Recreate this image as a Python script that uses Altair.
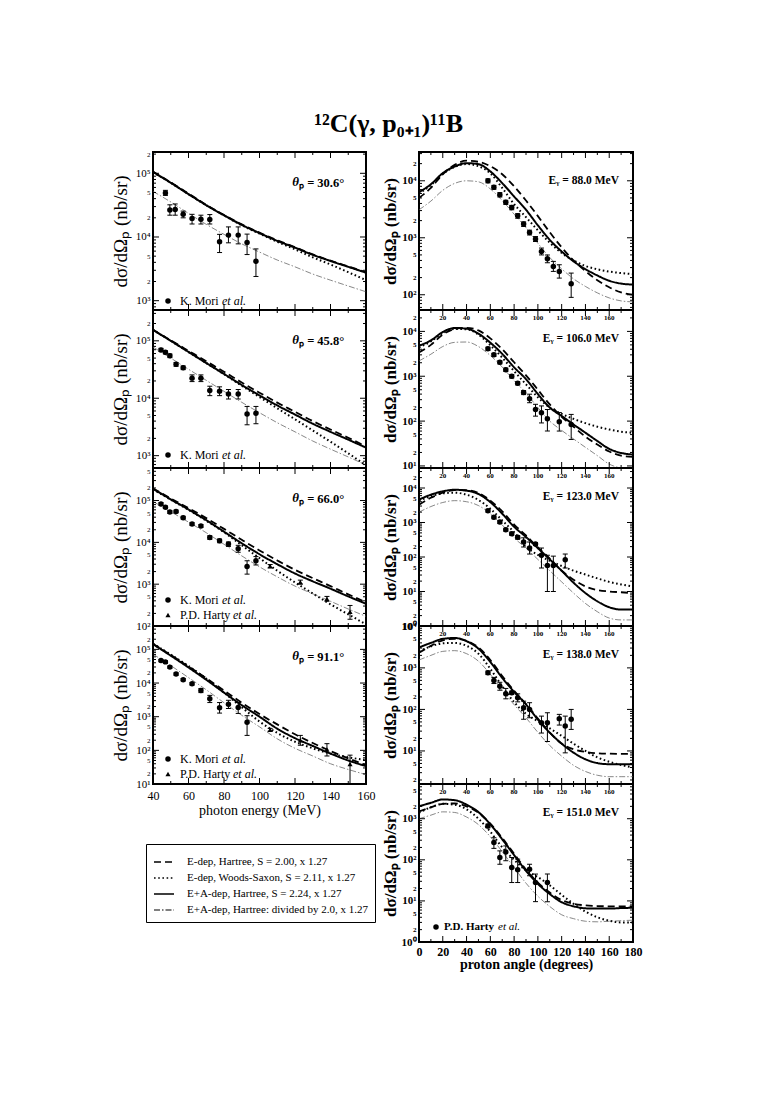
import altair as alt
import pandas as pd

FONT = "Liberation Serif"

MODELS = ["E-dep, Hartree, S = 2.00, x 1.27",
          "E-dep, Woods-Saxon, S = 2.11, x 1.27",
          "E+A-dep, Hartree, S = 2.24, x 1.27",
          "E+A-dep, Hartree: divided by 2.0, x 1.27"]
DASHES = [[7, 4], [1.6, 2.6], [1, 0], [6, 2, 1.5, 2]]
WIDTHS = [1.8, 2.0, 2.0, 0.7]
COLORS = ["#000000", "#000000", "#000000", "#555555"]

E_GRID = [40, 50, 60, 70, 80, 90, 100, 110, 120, 130, 140, 150, 160]
TH_GRID = [0, 10, 20, 30, 40, 50, 60, 70, 80, 90, 100, 110, 120, 130, 140, 150, 160, 170, 180]
L_XLAB = [40, 60, 80, 100, 120, 140, 160]
L_XMAJ = [60, 80, 100, 120, 140]
L_XMIN = [50, 70, 90, 110, 130, 150]
R_XLAB = [0, 20, 40, 60, 80, 100, 120, 140, 160, 180]
R_XMAJ = [20, 40, 60, 80, 100, 120, 140, 160]
R_XMIN = [10, 30, 50, 70, 90, 110, 130, 150, 170]
R_TOPLAB = [20, 40, 60, 80, 100, 120, 140, 160]

# ---------------- left column (energy dependence) ----------------
L1_DASH = [1.06e5, 7.2e4, 4.8e4, 3.2e4, 2.22e4, 1.58e4, 1.17e4, 8.9e3, 6.9e3, 5.35e3, 4.25e3, 3.45e3, 2.8e3]
L1_DOT = [1.04e5, 7.1e4, 4.7e4, 3.15e4, 2.18e4, 1.53e4, 1.13e4, 8.4e3, 6.4e3, 4.8e3, 3.7e3, 2.8e3, 2.1e3]
L1_SOLID = [1.05e5, 7.1e4, 4.7e4, 3.16e4, 2.19e4, 1.55e4, 1.15e4, 8.7e3, 6.8e3, 5.25e3, 4.2e3, 3.4e3, 2.75e3]
L1_THIN = [5.2e4, 3.55e4, 2.35e4, 1.58e4, 1.1e4, 7.8e3, 5.8e3, 4.35e3, 3.4e3, 2.62e3, 2.1e3, 1.7e3, 1.38e3]
L1_MORI_E = [47, 49.5, 52.5, 57, 62, 67, 72, 77.5, 82.5, 88, 93, 98]
L1_MORI_V = [4.9e4, 2.65e4, 2.7e4, 2.27e4, 1.96e4, 1.9e4, 1.88e4, 8.45e3, 1.07e4, 1.07e4, 8.2e3, 4.15e3]
L1_MORI_LO = [4.5e4, 2.2e4, 2.2e4, 2.0e4, 1.6e4, 1.6e4, 1.6e4, 5.7e3, 8.1e3, 7.8e3, 5.3e3, 2.4e3]
L1_MORI_HI = [5.4e4, 3.2e4, 3.3e4, 2.55e4, 2.27e4, 2.2e4, 2.25e4, 1.1e4, 1.44e4, 1.44e4, 1.11e4, 6.5e3]

L2_DASH = [1.55e5, 1.02e5, 6.7e4, 4.4e4, 2.9e4, 1.88e4, 1.25e4, 8.4e3, 5.8e3, 4.0e3, 2.85e3, 2.05e3, 1.45e3]
L2_DOT = [1.55e5, 1.0e5, 6.4e4, 4.1e4, 2.62e4, 1.65e4, 1.05e4, 6.7e3, 4.3e3, 2.75e3, 1.75e3, 1.1e3, 680]
L2_SOLID = [1.55e5, 1.0e5, 6.4e4, 4.1e4, 2.65e4, 1.7e4, 1.12e4, 7.5e3, 5.2e3, 3.6e3, 2.6e3, 1.9e3, 1.38e3]
L2_THIN = [7.8e4, 5.0e4, 3.2e4, 2.05e4, 1.32e4, 8.5e3, 5.6e3, 3.75e3, 2.6e3, 1.8e3, 1.3e3, 950, 690]
L2_MORI_E = [44.5, 47, 49.5, 53, 57, 62, 67, 72, 77.5, 82.5, 88, 93, 98]
L2_MORI_V = [6.95e4, 6.3e4, 5.5e4, 3.9e4, 3.4e4, 2.24e4, 2.24e4, 1.36e4, 1.33e4, 1.19e4, 1.19e4, 5.3e3, 5.5e3]
L2_MORI_LO = [6.5e4, 5.9e4, 5.1e4, 3.6e4, 3.15e4, 1.95e4, 1.95e4, 1.11e4, 1.11e4, 9.7e3, 9.7e3, 3.45e3, 3.6e3]
L2_MORI_HI = [7.4e4, 6.7e4, 5.9e4, 4.2e4, 3.65e4, 2.55e4, 2.55e4, 1.62e4, 1.58e4, 1.42e4, 1.42e4, 7.2e3, 7.2e3]

L3_DASH = [1.95e5, 1.12e5, 6.6e4, 3.8e4, 2.1e4, 1.15e4, 6.4e3, 3.7e3, 2.2e3, 1.4e3, 900, 570, 370]
L3_DOT = [1.85e5, 1.05e5, 6.0e4, 3.3e4, 1.75e4, 8.5e3, 4.2e3, 2.1e3, 1.1e3, 600, 330, 190, 110]
L3_SOLID = [1.9e5, 1.07e5, 6.1e4, 3.4e4, 1.8e4, 9.5e3, 5.2e3, 3.0e3, 1.8e3, 1.17e3, 780, 510, 340]
L3_THIN = [9.5e4, 5.4e4, 3.05e4, 1.7e4, 9.0e3, 4.75e3, 2.6e3, 1.5e3, 900, 590, 390, 255, 170]
L3_MORI_E = [44.5, 47, 49.5, 53, 57, 62, 67, 72, 77.5, 82.5, 88, 93, 98]
L3_MORI_V = [8.3e4, 6.95e4, 5.3e4, 5.5e4, 3.9e4, 2.75e4, 2.47e4, 1.31e4, 1.09e4, 9.1e3, 7.0e3, 2.64e3, 3.65e3]
L3_MORI_LO = [7.7e4, 6.5e4, 4.9e4, 5.1e4, 3.6e4, 2.55e4, 2.28e4, 1.18e4, 9.8e3, 8.0e3, 5.8e3, 1.74e3, 2.88e3]
L3_MORI_HI = [8.9e4, 7.4e4, 5.7e4, 5.9e4, 4.2e4, 2.95e4, 2.66e4, 1.44e4, 1.2e4, 1.02e4, 8.5e3, 3.63e3, 4.57e3]
L3_HARTY_E = [106, 123, 138, 151]
L3_HARTY_V = [2.7e3, 1.12e3, 445, 219]
L3_HARTY_LO = [2.45e3, 1.0e3, 390, 145]
L3_HARTY_HI = [2.95e3, 1.25e3, 510, 310]

L4_DASH = [1.45e5, 6.8e4, 3.1e4, 1.4e4, 6.0e3, 2.6e3, 1.2e3, 590, 300, 165, 95, 58, 36]
L4_DOT = [1.48e5, 7.0e4, 3.2e4, 1.35e4, 5.2e3, 1.9e3, 720, 330, 180, 115, 80, 62, 52]
L4_SOLID = [1.43e5, 6.5e4, 2.9e4, 1.25e4, 5.2e3, 2.2e3, 1.0e3, 440, 230, 135, 80, 50, 34]
L4_THIN = [7.2e4, 3.3e4, 1.45e4, 6.3e3, 2.6e3, 1.1e3, 500, 220, 115, 68, 40, 27, 19]
L4_MORI_E = [44.5, 47, 49.5, 53, 57, 62, 67, 72, 77.5, 82.5, 88, 93]
L4_MORI_V = [4.65e4, 4.25e4, 2.97e4, 1.85e4, 1.26e4, 9.5e3, 6.0e3, 3.4e3, 1.83e3, 2.35e3, 1.87e3, 680]
L4_MORI_LO = [4.3e4, 3.9e4, 2.75e4, 1.7e4, 1.16e4, 8.7e3, 5.2e3, 2.63e3, 1.28e3, 1.75e3, 1.25e3, 278]
L4_MORI_HI = [5.0e4, 4.6e4, 3.2e4, 2.0e4, 1.36e4, 1.03e4, 6.9e3, 4.3e3, 2.63e3, 3.07e3, 2.63e3, 1.07e3]
L4_HARTY_E = [106, 123, 138, 151]
L4_HARTY_V = [407, 199, 106, 39]
L4_HARTY_LO = [370, 142, 68, 10]
L4_HARTY_HI = [450, 278, 158, 72]

# ---------------- right column (angular distributions) ----------------
R1_DASH = [5.0e3, 7.5e3, 1.3e4, 1.9e4, 2.25e4, 2.15e4, 1.8e4, 1.3e4, 8.0e3, 4.5e3, 2.4e3, 1.25e3, 680, 400, 260, 180, 135, 110, 100]
R1_DOT = [6.0e3, 8.4e3, 1.32e4, 1.75e4, 1.97e4, 1.8e4, 1.35e4, 7.5e3, 3.9e3, 2.3e3, 1.35e3, 820, 540, 400, 320, 280, 255, 240, 230]
R1_SOLID = [6.3e3, 8.7e3, 1.36e4, 1.78e4, 2.04e4, 1.96e4, 1.46e4, 9.1e3, 5.3e3, 3.1e3, 1.65e3, 920, 575, 385, 282, 218, 176, 157, 151]
R1_THIN = [3.1e3, 4.4e3, 6.8e3, 9.0e3, 1.0e4, 9.6e3, 7.2e3, 4.5e3, 2.6e3, 1.5e3, 800, 450, 285, 190, 140, 108, 88, 78, 75]
R1_TH = [58, 63, 68, 73, 78, 83, 88, 93, 98, 103, 108, 113, 118, 128]
R1_V = [1.0e4, 7.7e3, 5.7e3, 4.2e3, 3.4e3, 2.43e3, 1.74e3, 1.24e3, 955, 575, 428, 314, 257, 156]
R1_LO = [9.2e3, 7.1e3, 5.2e3, 3.85e3, 3.1e3, 2.2e3, 1.58e3, 1.12e3, 860, 500, 365, 257, 196, 90]
R1_HI = [1.08e4, 8.3e3, 6.2e3, 4.55e3, 3.7e3, 2.65e3, 1.9e3, 1.36e3, 1.05e3, 660, 500, 385, 336, 240]

R2_DASH = [3.4e3, 5.0e3, 8.5e3, 1.13e4, 1.2e4, 1.05e4, 7.0e3, 4.0e3, 2.05e3, 1.05e3, 500, 235, 125, 75, 45, 30, 21, 17, 16]
R2_DOT = [4.4e3, 6.0e3, 9.2e3, 1.13e4, 1.12e4, 8.5e3, 4.9e3, 2.6e3, 1.3e3, 660, 340, 200, 145, 112, 90, 75, 65, 58, 55]
R2_SOLID = [4.8e3, 6.3e3, 9.7e3, 1.19e4, 1.15e4, 8.9e3, 5.6e3, 3.15e3, 1.58e3, 863, 400, 200, 130, 84, 55, 36, 24, 19.5, 18]
R2_THIN = [2.2e3, 3.1e3, 4.6e3, 5.7e3, 5.8e3, 4.6e3, 2.9e3, 1.6e3, 800, 420, 200, 100, 62, 40, 26, 17, 11, 9, 8.5]
R2_TH = [58, 63, 68, 73, 78, 83, 88, 93, 98, 103, 108, 118, 128]
R2_V = [4.1e3, 3.0e3, 2.05e3, 1.4e3, 1.0e3, 700, 434, 316, 182, 154, 113, 97, 84]
R2_LO = [3.75e3, 2.75e3, 1.88e3, 1.28e3, 910, 640, 390, 257, 129, 91, 60, 60, 39]
R2_HI = [4.45e3, 3.25e3, 2.22e3, 1.52e3, 1.09e3, 760, 480, 398, 237, 218, 182, 155, 141]

R3_DASH = [3.3e3, 5.2e3, 7.3e3, 8.7e3, 8.6e3, 7.2e3, 4.3e3, 2.1e3, 870, 420, 190, 90, 40, 22, 14, 11, 10, 9.5, 9.0]
R3_DOT = [4.3e3, 5.8e3, 7.0e3, 7.3e3, 6.4e3, 4.5e3, 2.5e3, 1.15e3, 520, 200, 115, 78, 55, 40, 31, 24, 19, 16, 14]
R3_SOLID = [4.6e3, 6.4e3, 8.0e3, 8.9e3, 8.4e3, 6.7e3, 3.9e3, 1.8e3, 750, 380, 180, 85, 40, 18, 9.0, 5.2, 3.5, 3.0, 3.0]
R3_THIN = [2.0e3, 2.9e3, 3.8e3, 4.3e3, 4.0e3, 3.1e3, 1.8e3, 850, 360, 180, 85, 40, 19, 9, 4.5, 2.6, 1.7, 1.5, 1.5]
R3_TH = [58, 63, 68, 73, 78, 83, 88, 93, 98, 103, 108, 113, 123]
R3_V = [2.2e3, 1.41e3, 1.03e3, 620, 474, 372, 272, 182, 238, 112, 57, 57, 83]
R3_LO = [2.0e3, 1.28e3, 930, 560, 425, 330, 195, 122, 215, 48, 10, 10, 48]
R3_HI = [2.42e3, 1.55e3, 1.13e3, 680, 525, 415, 360, 272, 262, 182, 112, 106, 122]

R4_DASH = [2.3e3, 3.4e3, 4.6e3, 5.0e3, 4.5e3, 3.1e3, 1.55e3, 640, 280, 135, 60, 28, 15, 11, 9.5, 8.8, 8.6, 8.5, 8.5]
R4_DOT = [2.5e3, 3.3e3, 3.9e3, 4.0e3, 3.4e3, 2.2e3, 950, 360, 150, 78, 52, 35, 23, 15, 10, 7, 5.5, 4.6, 4.0]
R4_SOLID = [3.1e3, 4.0e3, 5.0e3, 5.25e3, 4.4e3, 2.9e3, 1.39e3, 575, 265, 132, 57, 27.5, 15, 9.1, 6.3, 5.1, 4.8, 4.8, 4.8]
R4_THIN = [1.55e3, 2.0e3, 2.5e3, 2.6e3, 2.2e3, 1.45e3, 700, 290, 130, 63, 28, 13.5, 7.5, 4.5, 3.2, 2.6, 2.4, 2.4, 2.4]
R4_TH = [58, 63, 68, 73, 78, 83, 88, 93, 103, 108, 118, 123, 128]
R4_V = [760, 497, 363, 238, 251, 190, 110, 100, 48, 48, 60, 40, 58]
R4_LO = [690, 420, 290, 180, 228, 152, 58, 63, 27, 17, 42, 9, 33]
R4_HI = [840, 590, 450, 320, 275, 237, 158, 145, 69, 83, 76, 69, 100]

R5_DASH = [1.5e3, 1.9e3, 2.3e3, 2.35e3, 2.0e3, 1.4e3, 760, 340, 140, 58, 28, 16, 10.5, 8.5, 7.8, 7.5, 7.4, 7.4, 7.4]
R5_DOT = [1.4e3, 1.9e3, 2.3e3, 2.2e3, 1.7e3, 1.0e3, 480, 200, 100, 55, 38, 24, 14, 8.5, 5.5, 4.0, 3.3, 3.0, 3.0]
R5_SOLID = [2.0e3, 2.44e3, 2.94e3, 2.83e3, 2.2e3, 1.45e3, 730, 316, 130, 54, 26, 14.7, 9.3, 7.4, 6.6, 6.5, 6.5, 6.7, 6.8]
R5_THIN = [1.0e3, 1.22e3, 1.47e3, 1.42e3, 1.1e3, 720, 365, 158, 65, 27, 13, 7.3, 4.6, 3.7, 3.2, 3.1, 3.2, 3.3, 3.4]
R5_TH = [58, 63, 68, 73, 78, 83, 93, 98, 108]
R5_V = [665, 263, 114, 155, 65, 57, 59, 28, 28]
R5_LO = [600, 190, 78, 95, 28, 28, 41, 9.6, 9.6]
R5_HI = [740, 345, 165, 218, 114, 104, 78, 45, 45]

L_DOMS = [[714, 2.16e5], [610, 3.44e5], [100, 6.0e5], [10, 4.95e5]]
R_DOMS = [[54, 3.2e4], [9, 3.0e4], [1, 3.8e4], [1.6, 1.02e4], [1, 7.0e3]]
L_ANGLES = ["30.6", "45.8", "66.0", "91.1"]
R_ENERGIES = ["88.0", "106.0", "123.0", "138.0", "151.0"]

W_L, W_R, H = 213, 214, 158
YTITLE = "dσ/dΩₚ (nb/sr)"

DEC_TEST = "abs(datum.value / pow(10, floor(log(datum.value) / LN10 + 1e-6)) - 1) < 0.01"
EXPO = "floor(log(datum.value) / LN10 + 1e-6)"
LABEL_EXPR = (DEC_TEST + " ? '10' + ['⁰','¹','²','³','⁴','⁵','⁶'][" + EXPO + "] : "
              "format(datum.value / pow(10, " + EXPO + "), '.0f')")


def log_vals(lo, hi, mants):
    out = []
    for k in range(-1, 8):
        for m in mants:
            v = m * 10 ** k
            if lo * 0.999 <= v <= hi * 1.001:
                out.append(float(v))
    return out


def curves_df(xgrid, arrays):
    rows = []
    for name, w, arr in zip(MODELS, WIDTHS, arrays):
        for x, y in zip(xgrid, arr):
            rows.append({"x": x, "y": y, "model": name, "w": w})
    return pd.DataFrame(rows)


def txt(s, x, y, size, weight="normal", style="normal", align="left"):
    return alt.Chart(pd.DataFrame({"t": [s]})).mark_text(
        font=FONT, fontSize=size, fontWeight=weight, fontStyle=style,
        align=align, baseline="middle", color="black"
    ).encode(text="t:N", x=alt.value(x), y=alt.value(y))


def sym(shape, x, y, size):
    return alt.Chart(pd.DataFrame({"a": [0]})).mark_point(
        shape=shape, filled=True, size=size, color="black", opacity=1
    ).encode(x=alt.value(x), y=alt.value(y))


def panel(xgrid, arrays, sets, xdom, ydom, w, side, bottom, annot, items,
          top_labels=False, legend=False):
    fw = "bold" if side == "R" else "normal"
    xscale = alt.Scale(domain=xdom, nice=False, zero=False)
    yscale = alt.Scale(type="log", domain=ydom, nice=False)
    if bottom and side == "L":
        xaxis = alt.Axis(values=L_XLAB, title="photon energy (MeV)", ticks=False, domain=False,
                         grid=False, labelFontSize=12, titleFontSize=14, labelPadding=6,
                         titlePadding=2, labelFlush=False, labelOverlap=False,
                         labelFontWeight="normal", titleFontWeight="normal")
    elif bottom:
        xaxis = alt.Axis(values=R_XLAB, title="proton angle (degrees)", ticks=False, domain=False,
                         grid=False, labelFontSize=12, titleFontSize=14, labelPadding=4,
                         titlePadding=0, labelFlush=False, labelOverlap=False,
                         labelFontWeight="bold", titleFontWeight="bold")
    else:
        xaxis = None
    yaxis = alt.Axis(values=log_vals(ydom[0], ydom[1], [1, 2, 5]), labelExpr=LABEL_EXPR,
                     labelFontSize={"condition": {"test": DEC_TEST, "value": 11}, "value": 7},
                     ticks=False, domain=False, grid=False, labelOverlap=False, labelPadding=3,
                     labelFontWeight=fw, title=YTITLE,
                     titleFontSize=(19 if side == "L" else 17), titleFontWeight=fw,
                     titlePadding=(5 if side == "L" else 2))

    def X(f="x"):
        return alt.X(f, type="quantitative", scale=xscale, axis=xaxis)

    def Y(f="y"):
        return alt.Y(f, type="quantitative", scale=yscale, axis=yaxis)

    if legend:
        leg = alt.Legend(orient="none", legendX=-7, legendY=218, title=None, strokeColor="black",
                         padding=7, labelFont=FONT, labelFontSize=11, labelColor="black",
                         symbolType="stroke", symbolSize=400, symbolStrokeWidth=1.6,
                         rowPadding=-3, labelOffset=12, labelLimit=400)
    else:
        leg = None

    layers = [alt.Chart(curves_df(xgrid, arrays)).mark_line(clip=True, interpolate="monotone").encode(
        x=X(), y=Y(),
        color=alt.Color("model:N", scale=alt.Scale(domain=MODELS, range=COLORS), legend=leg),
        strokeDash=alt.StrokeDash("model:N", scale=alt.Scale(domain=MODELS, range=DASHES), legend=leg),
        strokeWidth=alt.StrokeWidth("w:Q", scale=None, legend=None),
    )]

    for xs, vs, lo, hi, shape, size in sets:
        df = pd.DataFrame({"x": xs, "y": vs, "lo": lo, "hi": hi})
        layers.append(alt.Chart(df).mark_rule(color="black", strokeWidth=1, clip=True).encode(
            x=X(), y=Y("lo"), y2=alt.Y2("hi")))
        for f in ("lo", "hi"):
            layers.append(alt.Chart(df).mark_tick(orient="horizontal", size=5, thickness=1,
                                                  color="black", opacity=1, clip=True).encode(
                x=X(), y=Y(f)))
        layers.append(alt.Chart(df).mark_point(shape=shape, filled=True, size=size, color="black",
                                               opacity=1, clip=True).encode(x=X(), y=Y()))

    # inward ticks
    xmaj, xmin_ = (L_XMAJ, L_XMIN) if side == "L" else (R_XMAJ, R_XMIN)
    for vals, ln in ((log_vals(ydom[0], ydom[1], [1]), 6),
                     (log_vals(ydom[0], ydom[1], [2, 3, 4, 5, 6, 7, 8, 9]), 3)):
        df = pd.DataFrame({"y": vals})
        layers.append(alt.Chart(df).mark_rule(color="black", strokeWidth=1).encode(
            y=Y(), x=alt.value(0), x2=alt.value(ln)))
        layers.append(alt.Chart(df).mark_rule(color="black", strokeWidth=1).encode(
            y=Y(), x=alt.value(w), x2=alt.value(w - ln)))
    for vals, ln in ((xmaj, 6), (xmin_, 3)):
        df = pd.DataFrame({"x": vals})
        layers.append(alt.Chart(df).mark_rule(color="black", strokeWidth=1).encode(
            x=X(), y=alt.value(0), y2=alt.value(ln)))
        layers.append(alt.Chart(df).mark_rule(color="black", strokeWidth=1).encode(
            x=X(), y=alt.value(H), y2=alt.value(H - ln)))

    if top_labels:
        layers.append(alt.Chart(pd.DataFrame({"x": R_TOPLAB})).mark_text(
            font=FONT, fontSize=7, fontWeight="bold", baseline="middle", color="black").encode(
            x=X(), y=alt.value(8), text=alt.Text("x:Q", format="d")))

    if side == "L":
        layers.append(txt("θ", 146, 30, 13, "bold", "italic", "right"))
        layers.append(txt("ₚ = " + annot + "°", 146, 31, 12.5, "bold"))
    else:
        layers.append(txt("Eᵧ = " + annot + " MeV", 200, 29, 11.5, "bold", "normal", "right"))

    for shape, x, y, name, xn, xe, weight, fs in items:
        layers.append(sym(shape, x, y, 30 if shape == "circle" else 26))
        layers.append(txt(name, xn, y, fs, weight))
        layers.append(txt("et al.", xe, y, fs, "normal", "italic"))

    return alt.layer(*layers).properties(width=w, height=H)


MORI = "K. Mori"
HARTY = "P.D. Harty"

left_panels = [
    panel(E_GRID, [L1_DASH, L1_DOT, L1_SOLID, L1_THIN],
          [(L1_MORI_E, L1_MORI_V, L1_MORI_LO, L1_MORI_HI, "circle", 30)],
          [40, 160], L_DOMS[0], W_L, "L", False, L_ANGLES[0],
          [("circle", 15, 149, MORI, 27, 69, "normal", 12)]),
    panel(E_GRID, [L2_DASH, L2_DOT, L2_SOLID, L2_THIN],
          [(L2_MORI_E, L2_MORI_V, L2_MORI_LO, L2_MORI_HI, "circle", 30)],
          [40, 160], L_DOMS[1], W_L, "L", False, L_ANGLES[1],
          [("circle", 15, 145, MORI, 27, 69, "normal", 12)]),
    panel(E_GRID, [L3_DASH, L3_DOT, L3_SOLID, L3_THIN],
          [(L3_MORI_E, L3_MORI_V, L3_MORI_LO, L3_MORI_HI, "circle", 30),
           (L3_HARTY_E, L3_HARTY_V, L3_HARTY_LO, L3_HARTY_HI, "triangle-up", 26)],
          [40, 160], L_DOMS[2], W_L, "L", False, L_ANGLES[2],
          [("circle", 15, 132, MORI, 27, 69, "normal", 12),
           ("triangle-up", 15, 147, HARTY, 27, 80, "normal", 12)]),
    panel(E_GRID, [L4_DASH, L4_DOT, L4_SOLID, L4_THIN],
          [(L4_MORI_E, L4_MORI_V, L4_MORI_LO, L4_MORI_HI, "circle", 30),
           (L4_HARTY_E, L4_HARTY_V, L4_HARTY_LO, L4_HARTY_HI, "triangle-up", 26)],
          [40, 160], L_DOMS[3], W_L, "L", True, L_ANGLES[3],
          [("circle", 15, 133, MORI, 27, 69, "normal", 12),
           ("triangle-up", 15, 148, HARTY, 27, 80, "normal", 12)],
          legend=True),
]

right_sets = [
    ([R1_DASH, R1_DOT, R1_SOLID, R1_THIN], (R1_TH, R1_V, R1_LO, R1_HI)),
    ([R2_DASH, R2_DOT, R2_SOLID, R2_THIN], (R2_TH, R2_V, R2_LO, R2_HI)),
    ([R3_DASH, R3_DOT, R3_SOLID, R3_THIN], (R3_TH, R3_V, R3_LO, R3_HI)),
    ([R4_DASH, R4_DOT, R4_SOLID, R4_THIN], (R4_TH, R4_V, R4_LO, R4_HI)),
    ([R5_DASH, R5_DOT, R5_SOLID, R5_THIN], (R5_TH, R5_V, R5_LO, R5_HI)),
]
right_panels = []
for i, (arrs, pts) in enumerate(right_sets):
    last = i == len(right_sets) - 1
    items = [("circle", 17, 143, HARTY, 25, 79, "bold", 11)] if last else []
    right_panels.append(panel(TH_GRID, arrs, [pts + ("circle", 30)], [0, 180], R_DOMS[i], W_R, "R",
                              last, R_ENERGIES[i], items, top_labels=(i > 0)))

RES = dict(x="independent", y="independent", color="independent",
           strokeDash="independent", strokeWidth="independent")

left = alt.vconcat(*left_panels, spacing=0, bounds="flush").resolve_scale(**RES)
right = alt.vconcat(*right_panels, spacing=0, bounds="flush").resolve_scale(**RES)

chart = alt.hconcat(left, right, spacing=3).resolve_scale(**RES).properties(
    title=alt.TitleParams("¹²C(γ, p₀₊₁)¹¹B", font=FONT, fontSize=26, fontWeight="bold",
                          anchor="middle", offset=12, dx=12, color="black"),
    padding={"left": 102, "top": 103, "right": 10, "bottom": 10},
).configure_view(stroke="black", strokeWidth=2).configure_axis(
    labelFont=FONT, titleFont=FONT, labelColor="black", titleColor="black"
).configure_legend(labelFont=FONT)

chart.save("out.html", embed_options={"renderer": "svg", "actions": False})
